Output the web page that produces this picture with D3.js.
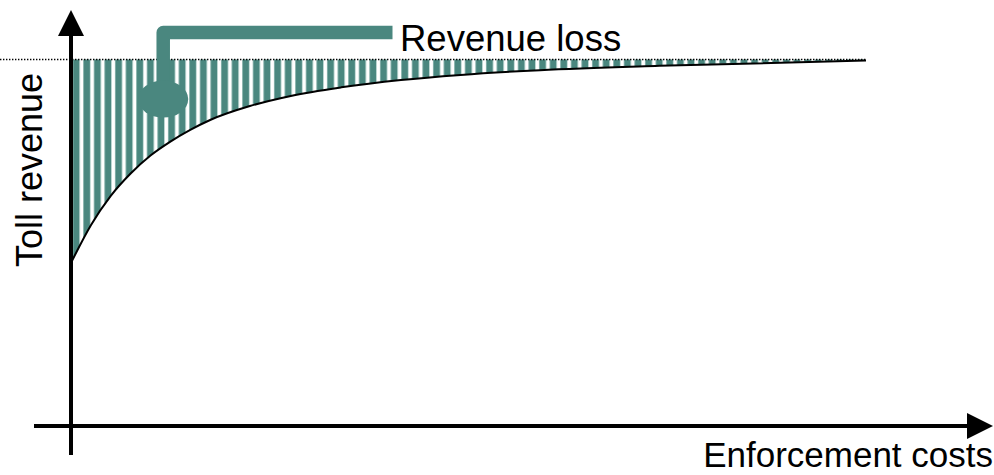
<!DOCTYPE html>
<html>
<head>
<meta charset="utf-8">
<script src="https://cdn.jsdelivr.net/npm/d3@7"></script>
<style>
  html, body { margin: 0; padding: 0; background: #fff; }
  svg { display: block; }
  text { font-family: "Liberation Sans", Arial, sans-serif; fill: #000; }
</style>
</head>
<body>
<svg id="chart" width="994" height="475"></svg>
<script>
// Enforcement cost (arbitrary units) and the toll revenue it secures (% of full revenue)
const enforcementCost = [0, 0.25, 0.5, 0.75, 1, 1.25, 1.5, 1.75, 2.25, 2.75, 3.4, 4.15, 4.9, 5.9, 7.4, 10];
const tollRevenue     = [44.5, 54.8, 62.8, 68.9, 73.8, 77.6, 80.8, 83.5, 87.3, 90.0, 92.4, 94.4, 95.8, 97.1, 98.3, 99.7];
const fullRevenue = 100;

const axisLabels = { x: "Enforcement costs", y: "Toll revenue" };
const calloutText = "Revenue loss";

const points = enforcementCost.map((c, i) => ({ c, r: tollRevenue[i] }));

const svg = d3.select("#chart");
const teal = "#4a877f";

const x = d3.scaleLinear().domain([0, 10]).range([71, 866]);
const y = d3.scaleLinear().domain([0, fullRevenue]).range([426, 59.5]);

const defs = svg.append("defs");

// vertical hatching for the lost-revenue area
const pat = defs.append("pattern")
  .attr("id", "hatch")
  .attr("patternUnits", "userSpaceOnUse")
  .attr("x", 72.5).attr("y", 0)
  .attr("width", 10.6).attr("height", 20);
pat.append("rect").attr("x", 0).attr("y", 0).attr("width", 7.4).attr("height", 20).attr("fill", "#a9cac5");
pat.append("rect").attr("x", 0.6).attr("y", 0).attr("width", 6.2).attr("height", 20).attr("fill", teal);

// arrow heads for the axes
defs.append("marker")
  .attr("id", "arrow")
  .attr("viewBox", "0 0 26 26")
  .attr("refX", 2).attr("refY", 13)
  .attr("markerWidth", 26).attr("markerHeight", 26)
  .attr("markerUnits", "userSpaceOnUse")
  .attr("orient", "auto")
  .append("path")
  .attr("d", "M0,0 L26,13 L0,26 Z")
  .attr("fill", "#000");

// shaded gap between full revenue and the revenue actually collected
const area = d3.area()
  .x(d => x(d.c))
  .y0(y(fullRevenue))
  .y1(d => y(d.r))
  .curve(d3.curveMonotoneX);

svg.append("path")
  .datum(points)
  .attr("d", area)
  .attr("fill", "url(#hatch)");

// full-revenue reference line
svg.append("line")
  .attr("x1", 0).attr("x2", x(10))
  .attr("y1", y(fullRevenue)).attr("y2", y(fullRevenue))
  .attr("stroke", "#000")
  .attr("stroke-width", 1.4)
  .attr("stroke-dasharray", "1.4 1.6");

// revenue curve
const line = d3.line()
  .x(d => x(d.c))
  .y(d => y(d.r))
  .curve(d3.curveMonotoneX);

svg.append("path")
  .datum(points)
  .attr("d", line)
  .attr("fill", "none")
  .attr("stroke", "#000")
  .attr("stroke-width", 2);

// axes
svg.append("line")
  .attr("x1", x(0) - 37).attr("x2", 969)
  .attr("y1", y(0)).attr("y2", y(0))
  .attr("stroke", "#000").attr("stroke-width", 4)
  .attr("marker-end", "url(#arrow)");

svg.append("line")
  .attr("x1", x(0)).attr("x2", x(0))
  .attr("y1", y(0) + 29).attr("y2", 34)
  .attr("stroke", "#000").attr("stroke-width", 4)
  .attr("marker-end", "url(#arrow)");

// callout pointing into the shaded area
const anchor = { c: 1.16, r: 89.2 };
const ax = x(anchor.c), ay = y(anchor.r);
svg.append("path")
  .attr("d", `M${ax},${ay} L${ax},32.5 L392.5,32.5`)
  .attr("fill", "none")
  .attr("stroke", teal)
  .attr("stroke-width", 13.5)
  .attr("stroke-linejoin", "round");
svg.append("ellipse")
  .attr("cx", ax).attr("cy", ay)
  .attr("rx", 25).attr("ry", 18.5)
  .attr("fill", teal);

svg.append("text")
  .attr("x", 400).attr("y", 50.5)
  .attr("font-size", 36.5)
  .text(calloutText);

// axis titles
svg.append("text")
  .attr("transform", "translate(41.5,170) rotate(-90)")
  .attr("text-anchor", "middle")
  .attr("font-size", 36)
  .text(axisLabels.y);

svg.append("text")
  .attr("x", 993).attr("y", 467)
  .attr("text-anchor", "end")
  .attr("font-size", 35)
  .text(axisLabels.x);
</script>
</body>
</html>
